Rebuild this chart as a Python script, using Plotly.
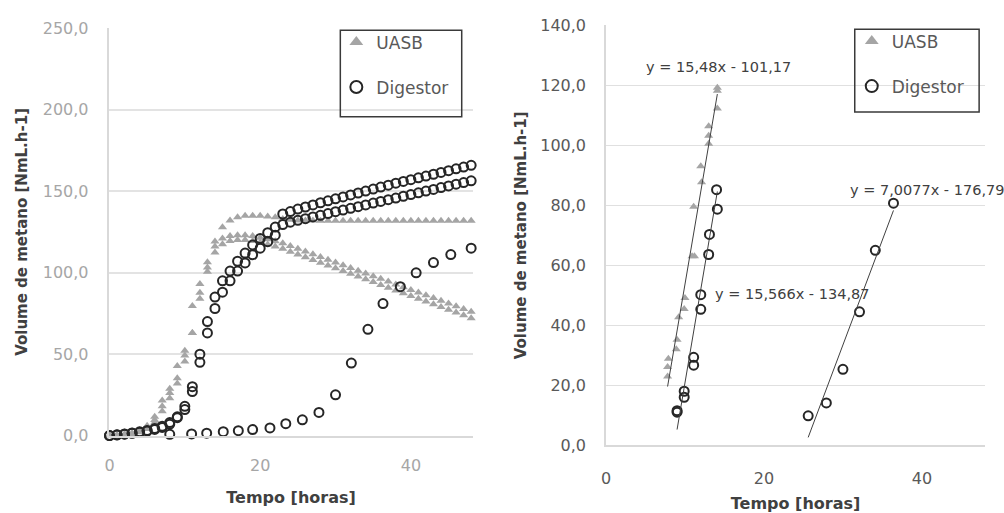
import plotly.graph_objects as go

# ---------------- data ----------------
hours = list(range(49))

uasb_r1 = [0.0, 0.3, 0.8, 1.5, 3.0, 6.0, 11.6, 21.5, 28.8, 42.7, 52.0, 79.5, 93.0, 106.4,
           119.2, 127.8, 132.0, 134.0, 135.0, 135.0, 135.0, 134.5, 134.0, 133.0, 132.5,
           132.0, 132.0, 132.0, 131.8, 131.8, 131.8, 131.8, 131.8, 131.8, 131.8, 131.8,
           131.8, 131.8, 131.8, 131.8, 131.8, 131.8, 131.8, 131.8, 131.8, 131.8, 131.8,
           131.8, 131.8]
uasb_r2 = [0.0, 0.2, 0.6, 1.2, 2.5, 5.0, 9.5, 18.0, 26.1, 35.2, 49.1, 63.0, 87.7, 103.2,
           116.0, 121.0, 122.5, 123.0, 123.0, 122.5, 121.5, 120.5, 119.3, 118.0, 116.3,
           114.6, 113.0, 111.3, 109.6, 107.9, 106.2, 104.6, 102.9, 101.2, 99.5, 97.8, 96.2,
           94.5, 92.8, 91.1, 89.4, 87.8, 86.1, 84.4, 82.7, 81.0, 79.4, 77.7, 76.0]
uasb_r3 = [0.0, 0.2, 0.5, 1.0, 2.0, 4.0, 8.0, 15.0, 22.9, 32.0, 45.4, 63.0, 84.0, 100.5,
           112.3, 117.5, 119.5, 120.0, 120.0, 119.5, 118.5, 117.3, 116.0, 114.6, 112.9,
           111.2, 109.5, 107.8, 106.1, 104.4, 102.7, 101.0, 99.3, 97.6, 95.9, 94.2, 92.5,
           90.8, 89.1, 87.4, 85.7, 84.0, 82.3, 80.6, 78.9, 77.2, 75.5, 73.8, 72.0]
digestor_a = [0.0, 0.5, 1.0, 1.6, 2.3, 3.2, 4.3, 5.8, 8.0, 11.5, 18.0, 30.0, 50.0, 70.0, 85.0,
              95.0, 101.0, 107.0, 112.0, 117.0, 121.0, 124.5, 128.0, 136.0, 137.5, 139.0, 140.3,
              141.6, 142.9, 144.1, 145.3, 146.5, 147.7, 148.9, 150.1, 151.3, 152.5, 153.7, 154.9,
              156.0, 157.1, 158.2, 159.3, 160.4, 161.5, 162.6, 163.7, 164.8, 165.9]
digestor_b = [0.0, 0.4, 0.9, 1.4, 2.0, 2.8, 3.8, 5.0, 7.0, 11.0, 16.0, 27.0, 45.0, 63.0, 78.0,
              88.0, 95.0, 101.0, 106.0, 111.0, 115.0, 119.0, 123.0, 129.5, 131.0, 132.1, 133.1,
              134.2, 135.2, 136.3, 137.4, 138.4, 139.5, 140.5, 141.6, 142.7, 143.7, 144.8, 145.8,
              146.9, 147.9, 149.0, 150.1, 151.1, 152.2, 153.2, 154.3, 155.3, 156.4]
digestor_c_t = [8.0, 10.9, 12.9, 15.1, 17.1, 19.0, 21.3, 23.4, 25.6, 27.8, 30.0, 32.1, 34.3,
                36.3, 38.6, 40.7, 43.0, 45.3, 48.0]
digestor_c_v = [0.8, 1.0, 1.5, 2.4, 3.0, 3.7, 4.7, 7.3, 9.7, 14.2, 25.0, 44.5, 65.2, 81.0,
                91.4, 99.9, 106.2, 111.1, 115.0]

# right panel: exponential phases used for the linear fits
uasb_exp_t = [7.8, 7.8, 7.9, 8.9, 9.0, 9.2, 9.9, 10.0, 10.9, 11.2, 11.1, 12.1, 12.0, 13.0,
              13.0, 13.0, 14.1, 14.1, 14.1]
uasb_exp_v = [22.9, 26.1, 28.8, 32.0, 35.2, 42.7, 45.4, 49.1, 63.0, 63.0, 79.5, 87.7, 93.0,
              100.5, 103.2, 106.4, 112.3, 118.2, 119.2]
dig_exp_t = [9.0, 9.0, 9.9, 9.9, 11.1, 11.1, 12.0, 12.0, 13.0, 13.1, 14.1, 14.0]
dig_exp_v = [11.5, 11.0, 18.0, 16.0, 29.3, 26.7, 50.2, 45.3, 63.6, 70.3, 78.7, 85.2]
dig_late_t = [25.6, 27.9, 30.0, 32.1, 34.1, 36.4]
dig_late_v = [9.8, 14.1, 25.3, 44.5, 65.0, 80.7]

fit_slopes = [15.48, 15.566, 7.0077]
fit_intercepts = [-101.17, -134.87, -176.79]
fit_labels = ["y = 15,48x - 101,17", "y = 15,566x - 134,87", "y = 7,0077x - 176,79"]

series_names = ["UASB", "Digestor"]
x_ticks = [0, 20, 40]
left_y_ticks = [0, 50, 100, 150, 200, 250]
left_y_text = ["0,0", "50,0", "100,0", "150,0", "200,0", "250,0"]
right_y_ticks = [0, 20, 40, 60, 80, 100, 120, 140]
right_y_text = ["0,0", "20,0", "40,0", "60,0", "80,0", "100,0", "120,0", "140,0"]
x_title = "Tempo [horas]"
y_title = "Volume de metano [NmL.h-1]"

# ---------------- styles ----------------
FONT = "DejaVu Sans"
GREY_MARK = "#a5a5a5"
DARK = "#262626"
W, H = 1004, 513

tri = dict(symbol="triangle-up", size=8, color=GREY_MARK, line=dict(width=0))
circ = dict(symbol="circle", size=9, color="rgba(0,0,0,0)", line=dict(color=DARK, width=2))

fig = go.Figure()

# left panel
for i, ys in enumerate([uasb_r1, uasb_r2, uasb_r3]):
    fig.add_trace(go.Scatter(x=hours, y=ys, mode="markers", marker=tri, name=series_names[0],
                             legendgroup="u", legend="legend", showlegend=(i == 0),
                             cliponaxis=False, xaxis="x", yaxis="y"))
for i, ys in enumerate([digestor_a, digestor_b]):
    fig.add_trace(go.Scatter(x=hours, y=ys, mode="markers", marker=circ, name=series_names[1],
                             legendgroup="d", legend="legend", showlegend=(i == 0),
                             cliponaxis=False, xaxis="x", yaxis="y"))
fig.add_trace(go.Scatter(x=digestor_c_t, y=digestor_c_v, mode="markers", marker=circ,
                         name=series_names[1], legendgroup="d", showlegend=False,
                         cliponaxis=False, xaxis="x", yaxis="y"))

# right panel
fig.add_trace(go.Scatter(x=uasb_exp_t, y=uasb_exp_v, mode="markers", marker=tri, name=series_names[0],
                         legendgroup="u2", legend="legend2", cliponaxis=False, xaxis="x2", yaxis="y2"))
fig.add_trace(go.Scatter(x=dig_exp_t, y=dig_exp_v, mode="markers", marker=circ, name=series_names[1],
                         legendgroup="d2", legend="legend2", cliponaxis=False, xaxis="x2", yaxis="y2"))
fig.add_trace(go.Scatter(x=dig_late_t, y=dig_late_v, mode="markers", marker=circ, name=series_names[1],
                         legendgroup="d2", showlegend=False, cliponaxis=False, xaxis="x2", yaxis="y2"))

# trendlines
fit_sets = [(uasb_exp_t, uasb_exp_v), (dig_exp_t, dig_exp_v), (dig_late_t, dig_late_v)]
for (tx, _), a, b in zip(fit_sets, fit_slopes, fit_intercepts):
    x0, x1 = min(tx), max(tx)
    fig.add_trace(go.Scatter(x=[x0, x1], y=[a * x0 + b, a * x1 + b], mode="lines",
                             line=dict(color="#404040", width=1), showlegend=False,
                             hoverinfo="skip", xaxis="x2", yaxis="y2"))

label_pos = [(14.2, 126.0, "center"), (13.5, 50.5, "left"), (40.6, 85.0, "center")]
for (lx, ly, anc), txt in zip(label_pos, fit_labels):
    fig.add_annotation(x=lx, y=ly, xref="x2", yref="y2", text=txt, showarrow=False,
                       xanchor=anc, yanchor="middle",
                       font=dict(family=FONT, size=14.5, color="#404040"))

def px_x(p):
    return p / W

def px_y(p):
    return (H - p) / H

axis_common = dict(zeroline=False, showline=True, linewidth=1.5, ticks="", fixedrange=True)

fig.update_layout(
    width=W, height=H, margin=dict(l=0, r=0, t=0, b=0),
    paper_bgcolor="white", plot_bgcolor="white",
    font=dict(family=FONT),
    xaxis=dict(domain=[px_x(105), px_x(470)], range=[0, 48.2], anchor="y", showgrid=False,
               tickvals=x_ticks, ticktext=[str(v) for v in x_ticks], linecolor="#d9d9d9",
               tickfont=dict(size=16, color="#a6a6a6"), ticklabelstandoff=14,
               title=dict(text="<b>" + x_title + "</b>", standoff=18,
                          font=dict(size=16, color="#404040")),
               **axis_common),
    yaxis=dict(domain=[px_y(443), px_y(20)], range=[0, 250], anchor="x",
               tickvals=left_y_ticks, ticktext=left_y_text, showgrid=True,
               gridcolor="#e3e3e3", gridwidth=1.5, linecolor="#d9d9d9",
               tickfont=dict(size=16, color="#a6a6a6"), ticklabelstandoff=16,
               title=dict(text="<b>" + y_title + "</b>", standoff=11,
                          font=dict(size=15, color="#404040")),
               **axis_common),
    xaxis2=dict(domain=[px_x(604), px_x(985)], range=[0, 48], anchor="y2", showgrid=False,
                tickvals=x_ticks, ticktext=[str(v) for v in x_ticks], linecolor="#d9d9d9",
                tickfont=dict(size=16, color="#595959"), ticklabelstandoff=18,
                title=dict(text="<b>" + x_title + "</b>", standoff=11,
                           font=dict(size=16, color="#404040")),
                **axis_common),
    yaxis2=dict(domain=[px_y(453), px_y(17)], range=[0, 140], anchor="x2",
                tickvals=right_y_ticks, ticktext=right_y_text, showgrid=True,
                gridcolor="#e0e0e0", gridwidth=1, linecolor="#d9d9d9",
                tickfont=dict(size=16, color="#595959"), ticklabelstandoff=15,
                title=dict(text="<b>" + y_title + "</b>", standoff=10,
                           font=dict(size=15, color="#404040")),
                **axis_common),
    legend=dict(x=px_x(333), y=px_y(16), xanchor="left", yanchor="top",
                bgcolor="rgba(0,0,0,0)", borderwidth=0, traceorder="grouped",
                tracegroupgap=20, itemsizing="constant",
                font=dict(family=FONT, size=17, color="#595959")),
    legend2=dict(x=px_x(851), y=px_y(15), xanchor="left", yanchor="top",
                 bgcolor="rgba(0,0,0,0)", borderwidth=0, traceorder="grouped",
                 tracegroupgap=20, itemsizing="constant",
                 font=dict(family=FONT, size=17, color="#595959")),
    shapes=[
        dict(type="rect", xref="paper", yref="paper", x0=px_x(337), x1=px_x(459),
             y0=px_y(112), y1=px_y(22), line=dict(color="#3a3a3a", width=1.5)),
        dict(type="rect", xref="paper", yref="paper", x0=px_x(854), x1=px_x(979),
             y0=px_y(107), y1=px_y(21), line=dict(color="#3a3a3a", width=1.5)),
    ],
)

fig.write_html("out.html")
